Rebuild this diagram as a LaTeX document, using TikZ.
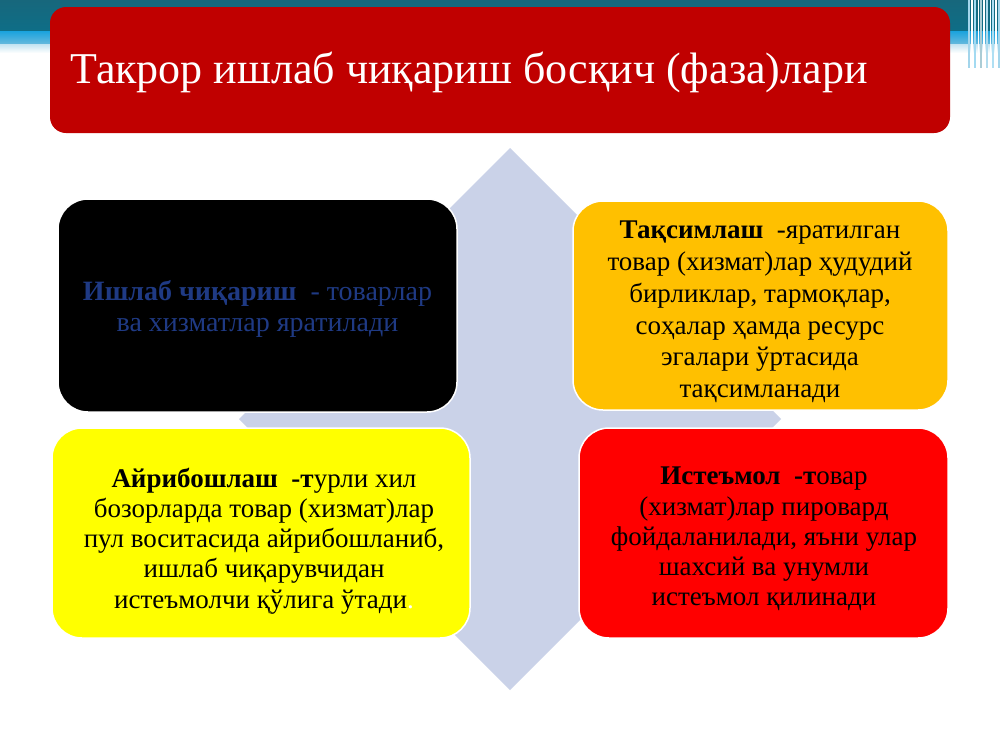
\documentclass[tikz,border=0pt]{standalone}
\usepackage{fontspec}
\setmainfont{Liberation Serif}
\definecolor{teal1}{HTML}{17677C}
\definecolor{teal2}{HTML}{0E6E87}
\definecolor{band1}{HTML}{1AA3DD}
\definecolor{band2}{HTML}{66B9DD}
\definecolor{titlered}{HTML}{C00000}
\definecolor{diam}{HTML}{CAD2E8}
\definecolor{orangebox}{HTML}{FFC000}
\definecolor{yellowbox}{HTML}{FFFF00}
\definecolor{redbox}{HTML}{FF0000}
\definecolor{darkblue}{HTML}{1F3A84}
\tikzset{
  phase/.style={rounded corners=30pt, draw=white, line width=1.5pt},
  phasetext/.style={align=center, font=\fontsize{27}{31}\selectfont, inner sep=0pt},
}
\begin{document}
\begin{tikzpicture}[x=1pt,y=-1pt]
\useasboundingbox (0,0) rectangle (1000,750);
\fill[white] (0,0) rectangle (1000,750);
% top decoration
\shade[top color=teal1, bottom color=teal2] (0,0) rectangle (1000,31);
\shade[top color=band1, bottom color=band2] (0,31) rectangle (1000,44);
\shade[top color=band2!40, bottom color=white] (0,44) rectangle (1000,53);
\foreach \xx/\cc/\ww in {969/band2!60/2, 972/white/1.5, 975/band1!40/2, 978/white/1, 981/teal2!35/1.5, 984/white/2, 987/band2!50/1.5, 990/white/1, 993/band1!35/2, 996/white/1.5, 999/band2!60/2}
  \fill[\cc] (\xx-\ww/2,0) rectangle (\xx+\ww/2,68);
% title banner
\node[fill=titlered, rounded corners=16pt, minimum width=900pt, minimum height=126pt, inner sep=0pt] (title) at (500,70) {};
\node[anchor=west, text=white, font=\fontsize{44}{48}\selectfont, inner sep=0pt] (titletext) at (70,72) {Такрор ишлаб чиқариш босқич (фаза)лари};
% diamond
\fill[diam] (510,148) -- (781,419) -- (510,690) -- (239,419) -- cycle;
% boxes
\node[phase, fill=black, minimum width=399pt, minimum height=213pt] (prod) at (257.5,305.5) {};
\node[phasetext, text=darkblue, font=\fontsize{28}{31}\selectfont] (prodtext) at (257.5,309) {\textbf{Ишлаб чиқариш}\ \ - товарлар\\ва хизматлар яратилади};
\node[phase, fill=orangebox, minimum width=375pt, minimum height=209pt] (dist) at (760.5,305.5) {};
\node[phasetext, font=\fontsize{27}{31.8}\selectfont] (disttext) at (760,312) {\textbf{Тақсимлаш}\ \ -яратилган\\товар (хизмат)лар ҳудудий\\бирликлар, тармоқлар,\\соҳалар ҳамда ресурс\\эгалари ўртасида\\тақсимланади};
\node[phase, fill=yellowbox, minimum width=418pt, minimum height=210pt] (exch) at (261,533) {};
\node[phasetext, font=\fontsize{27}{30.2}\selectfont] (exchtext) at (264,541) {\textbf{Айрибошлаш\ \ -т}урли хил\\бозорларда товар (хизмат)лар\\пул воситасида айрибошланиб,\\ишлаб чиқарувчидан\\истеъмолчи қўлига ўтади{\color{white}.}};
\node[phase, fill=redbox, minimum width=369pt, minimum height=210pt] (cons) at (763.5,533) {};
\node[phasetext, font=\fontsize{27}{30.2}\selectfont] (constext) at (764,539) {\textbf{Истеъмол\ \ -т}овар\\(хизмат)лар пировард\\фойдаланилади, яъни улар\\шахсий ва унумли\\истеъмол қилинади};
\end{tikzpicture}
\end{document}
